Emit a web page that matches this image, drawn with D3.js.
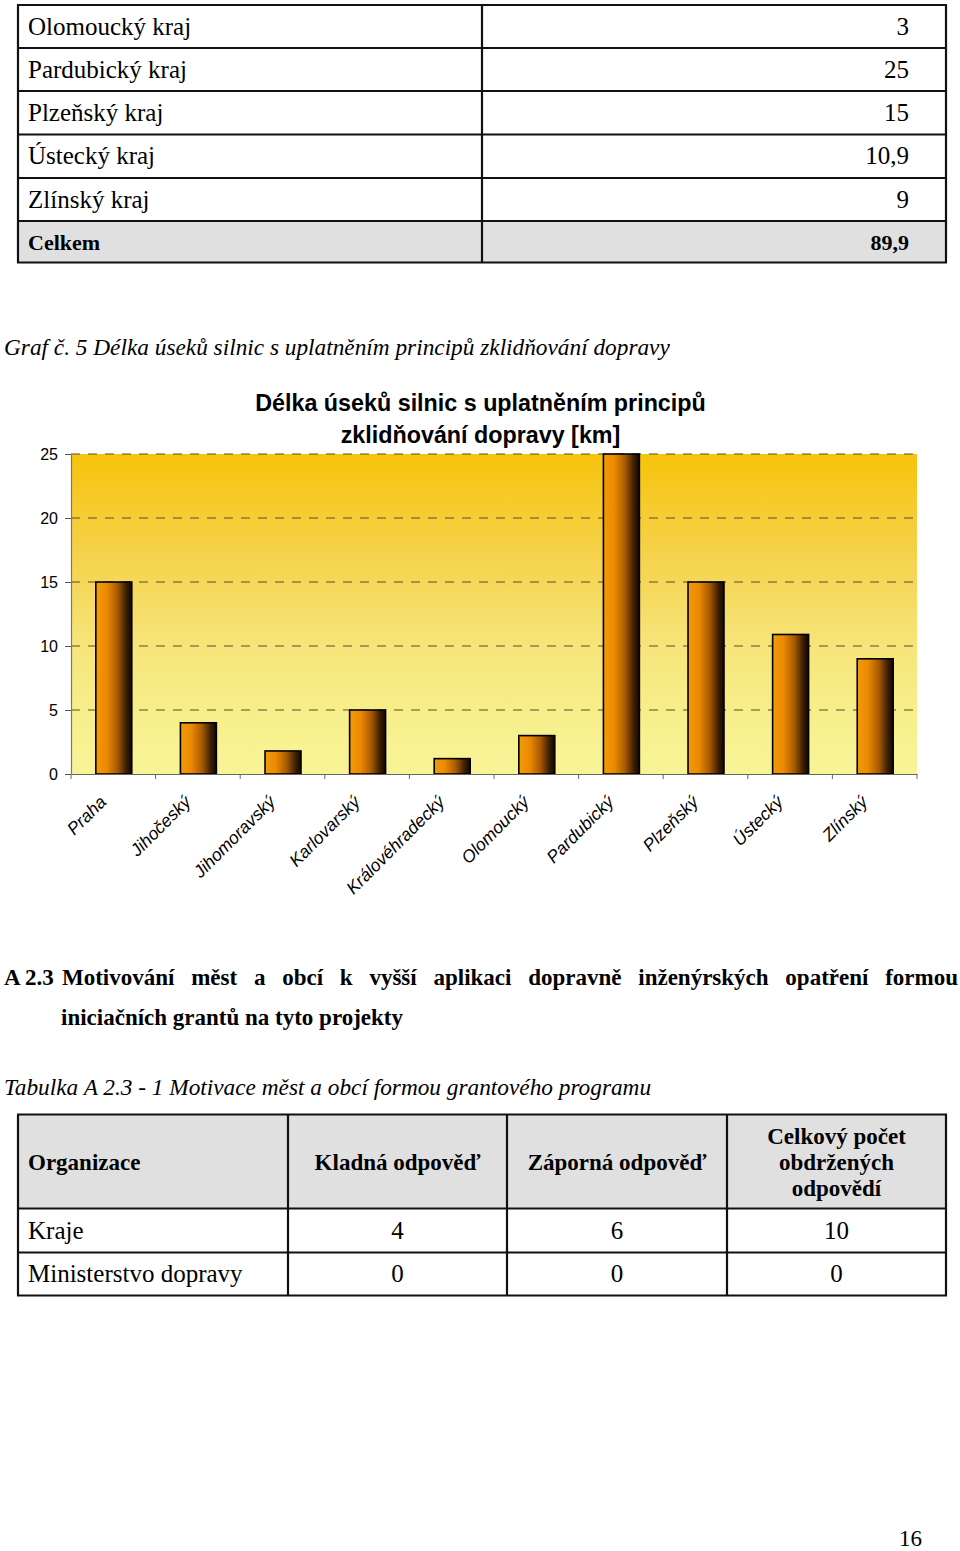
<!DOCTYPE html>
<html><head><meta charset="utf-8">
<script src="https://cdn.jsdelivr.net/npm/d3@7"></script>
<style>body{margin:0;background:#fff}svg{display:block}</style>
</head><body><svg id="page" width="960" height="1551"></svg>
<script>
// ---------- data ----------
const tableRegions = ["Olomoucký kraj","Pardubický kraj","Plzeňský kraj","Ústecký kraj","Zlínský kraj"];
const tableLengths = ["3","25","15","10,9","9"];
const tableTotalLabel = "Celkem";
const tableTotal = "89,9";

const caption = "Graf č. 5 Délka úseků silnic s uplatněním principů zklidňování dopravy";
const chartTitle = ["Délka úseků silnic s uplatněním principů","zklidňování dopravy [km]"];
const categories = ["Praha","Jihočeský","Jihomoravský","Karlovarský","Královéhradecký","Olomoucký","Pardubický","Plzeňský","Ústecký","Zlínský"];
const values = [15,4,1.8,5,1.2,3,25,15,10.9,9];
const yTicks = [0,5,10,15,20,25];

const headingPrefix = "A 2.3";
const headingWords = ["Motivování","měst","a","obcí","k","vyšší","aplikaci","dopravně","inženýrských","opatření","formou"];
const headingLine2 = "iniciačních grantů na tyto projekty";
const tableCaption = "Tabulka A 2.3 - 1 Motivace měst a obcí formou grantového programu";
const grantHeader = ["Organizace","Kladná odpověď","Záporná odpověď",["Celkový počet","obdržených","odpovědí"]];
const grantOrgs = ["Kraje","Ministerstvo dopravy"];
const grantPositive = [4,0];
const grantNegative = [6,0];
const grantTotal = [10,0];
const pageNumber = "16";

// ---------- drawing ----------
const svg = d3.select("#page");
const SERIF = "'Liberation Serif','Times New Roman',serif";
const SANS = "'Liberation Sans',Arial,sans-serif";
const defs = svg.append("defs");

// ===== top table =====
{
  const rowYs = [5,48,91,134.5,178,221,262.5];
  const xs = [18,482,946];
  const g = svg.append("g");
  g.append("rect").attr("x",xs[0]).attr("y",rowYs[5]).attr("width",xs[2]-xs[0]).attr("height",rowYs[6]-rowYs[5]).attr("fill","#e0e0e0");
  const labels = tableRegions.concat([tableTotalLabel]);
  const vals = tableLengths.concat([tableTotal]);
  labels.forEach((l,i)=>{
    const cy = (rowYs[i]+rowYs[i+1])/2 + 8;
    const bold = i===labels.length-1;
    g.append("text").attr("x",28).attr("y",cy).text(l)
      .attr("font-family",SERIF).attr("font-size",bold?22:25).attr("font-weight",bold?"bold":"normal").attr("fill","#000");
    g.append("text").attr("x",909).attr("y",cy).attr("text-anchor","end").text(vals[i])
      .attr("font-family",SERIF).attr("font-size",bold?22:25).attr("font-weight",bold?"bold":"normal").attr("fill","#000");
  });
  rowYs.forEach(y=>g.append("line").attr("x1",xs[0]-1).attr("x2",xs[2]+1).attr("y1",y).attr("y2",y).attr("stroke","#111").attr("stroke-width",2.2));
  xs.forEach(x=>g.append("line").attr("x1",x).attr("x2",x).attr("y1",rowYs[0]).attr("y2",rowYs[6]).attr("stroke","#111").attr("stroke-width",2.2));
}

// ===== caption =====
svg.append("text").attr("x",4).attr("y",355).text(caption)
  .attr("font-family",SERIF).attr("font-style","italic").attr("font-size",23.3).attr("fill","#000");

// ===== chart =====
{
  const left=71, right=917, top=454, bottom=774;
  const y = d3.scaleLinear().domain([0,25]).range([bottom,top]);
  const x = d3.scaleBand().domain(categories).range([left,right]).padding(0);

  const bg = defs.append("linearGradient").attr("id","bgGrad").attr("x1",0).attr("y1",0).attr("x2",0).attr("y2",1);
  [[0,"#f6c40c"],[0.3,"#f5d149"],[0.6,"#f6e57a"],[0.85,"#f7f08e"],[1,"#f8f497"]].forEach(s=>bg.append("stop").attr("offset",s[0]).attr("stop-color",s[1]));
  const bar = defs.append("linearGradient").attr("id","barGrad").attr("x1",0).attr("y1",0).attr("x2",1).attr("y2",0);
  [[0,"#f39a0c"],[0.3,"#ec8a00"],[0.6,"#a85a00"],[0.85,"#3a1e00"],[1,"#120800"]].forEach(s=>bar.append("stop").attr("offset",s[0]).attr("stop-color",s[1]));

  const g = svg.append("g");
  g.append("rect").attr("x",left).attr("y",top).attr("width",right-left).attr("height",bottom-top).attr("fill","url(#bgGrad)");

  // gridlines
  g.selectAll("line.grid").data(yTicks.filter(d=>d>0)).join("line").attr("class","grid")
    .attr("x1",left).attr("x2",right).attr("y1",d=>y(d)).attr("y2",d=>y(d))
    .attr("stroke","#5a4c2a").attr("stroke-width",1.2).attr("stroke-dasharray","9,8");

  // bars
  const bw = x.bandwidth()*0.425;
  g.selectAll("rect.bar").data(values).join("rect").attr("class","bar")
    .attr("x",(d,i)=>x(categories[i])+(x.bandwidth()-bw)/2+0.5)
    .attr("y",d=>y(d)).attr("width",bw).attr("height",d=>y(0)-y(d))
    .attr("fill","url(#barGrad)").attr("stroke","#000").attr("stroke-width",1.6);

  // y axis
  const ya = g.append("g").attr("transform",`translate(${left},0)`)
    .call(d3.axisLeft(y).tickValues(yTicks).tickSize(6).tickSizeOuter(0).tickPadding(7));
  ya.select(".domain").attr("stroke","#777").attr("stroke-width",1.2);
  ya.selectAll(".tick line").attr("stroke","#555");
  ya.selectAll(".tick text").attr("font-family",SANS).attr("font-size",16).attr("fill","#000");

  // x axis
  const xa = g.append("g").attr("transform",`translate(0,${bottom})`)
    .call(d3.axisBottom(x).tickSize(0).tickSizeOuter(0).tickPadding(0));
  xa.select(".domain").attr("stroke","#666").attr("stroke-width",1.2);
  xa.selectAll(".tick text")
    .attr("font-family",SANS).attr("font-size",17.5).attr("font-style","italic").attr("fill","#000")
    .attr("text-anchor","end").attr("dy",0).attr("y",0)
    .attr("transform","translate(-6,29) rotate(-45)");
  const bounds = categories.map(c=>x(c)).concat([right]);
  g.selectAll("line.xtick").data(bounds).join("line").attr("class","xtick")
    .attr("x1",d=>d).attr("x2",d=>d).attr("y1",bottom).attr("y2",bottom+5)
    .attr("stroke","#666").attr("stroke-width",1);

  // title
  chartTitle.forEach((t,i)=>svg.append("text").attr("x",480.5).attr("y",411+i*32).attr("text-anchor","middle").text(t)
    .attr("font-family",SANS).attr("font-weight","bold").attr("font-size",23.3).attr("fill","#000"));
}

// ===== heading =====
{
  const g = svg.append("g").attr("font-family",SERIF).attr("font-weight","bold").attr("font-size",23).attr("fill","#000");
  g.append("text").attr("x",4).attr("y",985).text(headingPrefix);
  const words = headingWords.map(w=>g.append("text").attr("y",985).text(w));
  const widths = words.map(t=>t.node().getComputedTextLength());
  const start=62, end=958;
  const gap = (end-start-d3.sum(widths))/(words.length-1);
  let cx = start;
  words.forEach((t,i)=>{t.attr("x",cx); cx += widths[i]+gap;});
  g.append("text").attr("x",61).attr("y",1025).text(headingLine2);
}

svg.append("text").attr("x",4).attr("y",1095).text(tableCaption)
  .attr("font-family",SERIF).attr("font-style","italic").attr("font-size",23.3).attr("fill","#000");

// ===== bottom table =====
{
  const ys = [1114.5,1208.5,1252.5,1295.5];
  const xs = [18,288,507,727,946];
  const g = svg.append("g").attr("font-family",SERIF).attr("fill","#000");
  g.append("rect").attr("x",xs[0]).attr("y",ys[0]).attr("width",xs[4]-xs[0]).attr("height",ys[1]-ys[0]).attr("fill","#e0e0e0");
  grantHeader.forEach((h,i)=>{
    const cxm = (xs[i]+xs[i+1])/2;
    if (Array.isArray(h)) {
      h.forEach((line,j)=>g.append("text").attr("x",cxm).attr("y",1144+j*26).attr("text-anchor","middle").attr("font-weight","bold").attr("font-size",23).text(line));
    } else {
      g.append("text").attr("x",i===0?28:cxm).attr("y",1170).attr("text-anchor",i===0?"start":"middle").attr("font-weight","bold").attr("font-size",23).text(h);
    }
  });
  grantOrgs.forEach((o,r)=>{
    const by = (ys[r+1]+ys[r+2])/2 + 8;
    g.append("text").attr("x",28).attr("y",by).attr("font-size",25).text(o);
    [grantPositive[r],grantNegative[r],grantTotal[r]].forEach((v,k)=>{
      g.append("text").attr("x",(xs[k+1]+xs[k+2])/2).attr("y",by).attr("text-anchor","middle").attr("font-size",25).text(v);
    });
  });
  ys.forEach(y=>g.append("line").attr("x1",xs[0]-1).attr("x2",xs[4]+1).attr("y1",y).attr("y2",y).attr("stroke","#111").attr("stroke-width",2.2));
  xs.forEach(x=>g.append("line").attr("x1",x).attr("x2",x).attr("y1",ys[0]).attr("y2",ys[3]).attr("stroke","#111").attr("stroke-width",2.2));
}

svg.append("text").attr("x",922).attr("y",1546).attr("text-anchor","end").text(pageNumber)
  .attr("font-family",SERIF).attr("font-size",23).attr("fill","#000");
</script>
</body></html>
